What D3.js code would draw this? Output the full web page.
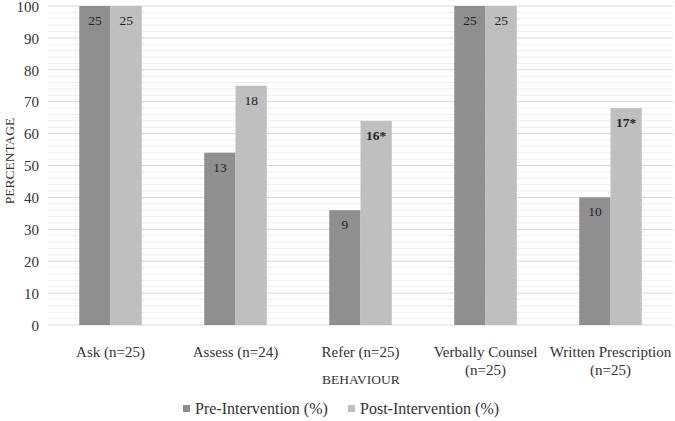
<!DOCTYPE html>
<html><head><meta charset="utf-8">
<script src="https://cdn.jsdelivr.net/npm/d3@7"></script>
<style>body{margin:0;background:#fff}svg{display:block}text{font-family:"Liberation Serif","Times New Roman",serif}</style>
</head><body>
<svg id="c" width="675" height="421"></svg>
<script>
const categories = [["Ask (n=25)"],["Assess (n=24)"],["Refer (n=25)"],["Verbally Counsel","(n=25)"],["Written Prescription","(n=25)"]];
const seriesNames = ["Pre-Intervention (%)","Post-Intervention (%)"];
const preValues = [100,54,36,100,40];
const postValues = [100,75,64,100,68];
const preLabels = ["25","13","9","25","10"];
const postLabels = ["25","18","16*","25","17*"];
const postBold = [false,false,true,false,true];
const yTicks = [0,10,20,30,40,50,60,70,80,90,100];
const colors = ["#8f8f8f","#bfbfbf"];

const svg = d3.select("#c");
const L = 48, R = 673, T = 6, B = 325;
const x = d3.scaleBand().domain(d3.range(categories.length)).range([L,R]).paddingInner(0.5).paddingOuter(0.25);
const x1 = d3.scaleBand().domain([0,1]).range([0,x.bandwidth()]);
const y = d3.scaleLinear().domain([0,100]).range([B,T]);

// minor grid
svg.append("g").selectAll("line").data(d3.range(0,101,2).filter(v=>v%10!==0)).join("line")
  .attr("x1",L).attr("x2",R).attr("y1",d=>y(d)).attr("y2",d=>y(d))
  .attr("stroke","#efefef").attr("stroke-width",1);
// major grid
svg.append("g").selectAll("line").data(yTicks).join("line")
  .attr("x1",L).attr("x2",R).attr("y1",d=>y(d)).attr("y2",d=>y(d))
  .attr("stroke","#d9d9d9").attr("stroke-width",1);

// y axis labels
const ya = svg.append("g").attr("transform",`translate(${L},0)`).call(d3.axisLeft(y).tickValues(yTicks).tickSize(0).tickPadding(9));
ya.select(".domain").remove();
ya.selectAll("text").attr("font-size",15).attr("fill","#333").attr("dy","0.35em");

const rows = categories.map((c,i)=>({i,pre:preValues[i],post:postValues[i]}));
const g = svg.append("g");
rows.forEach(r=>{
  [r.pre,r.post].forEach((v,k)=>{
    g.append("rect").attr("x",x(r.i)+x1(k)).attr("width",x1.bandwidth()).attr("y",y(v)).attr("height",y(0)-y(v)).attr("fill",colors[k]);
    const lab = k===0?preLabels[r.i]:postLabels[r.i];
    g.append("text").attr("x",x(r.i)+x1(k)+x1.bandwidth()/2).attr("y",y(v)+19).attr("text-anchor","middle")
      .attr("font-size",13.5).attr("fill","#222").attr("font-weight",(k===1&&postBold[r.i])?"bold":"normal").text(lab);
  });
});

// category labels
categories.forEach((c,i)=>{
  const t = svg.append("text").attr("x",x(i)+x.bandwidth()/2).attr("y",357).attr("text-anchor","middle").attr("font-size",15).attr("fill","#333");
  c.forEach((s,j)=>t.append("tspan").attr("x",x(i)+x.bandwidth()/2).attr("dy",j===0?0:18).text(s));
});

svg.append("text").attr("x",361).attr("y",384).attr("text-anchor","middle").attr("font-size",13.5).attr("fill","#333").text("BEHAVIOUR");
svg.append("text").attr("transform","translate(14,161) rotate(-90)").attr("text-anchor","middle").attr("font-size",13.5).attr("fill","#333").text("PERCENTAGE");

// legend
const lg = svg.append("g");
const lx = [183, 348];
seriesNames.forEach((s,k)=>{
  lg.append("rect").attr("x",lx[k]).attr("y",405).attr("width",7).attr("height",7).attr("fill",colors[k]);
  lg.append("text").attr("x",lx[k]+12).attr("y",414).attr("font-size",16).attr("fill","#333").text(s);
});
</script>
</body></html>
